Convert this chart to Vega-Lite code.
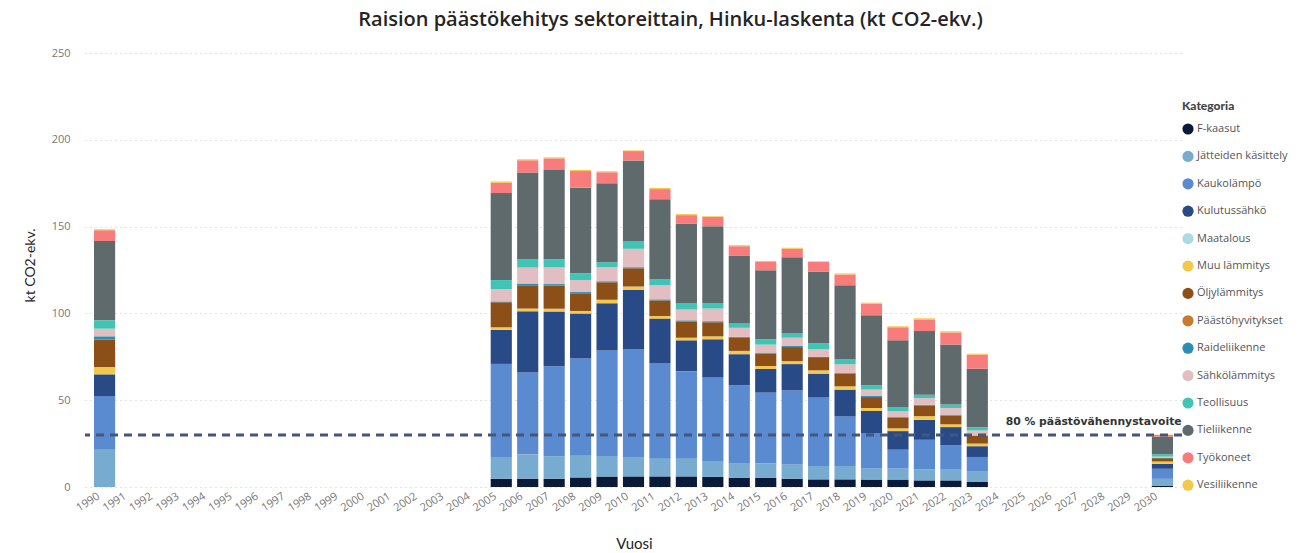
{
  "$schema": "https://vega.github.io/schema/vega-lite/v6.json",
  "width": 1097,
  "height": 434,
  "autosize": {"type": "none"},
  "padding": {"left": 85, "top": 53, "right": 124, "bottom": 66},
  "background": "white",
  "title": {
    "text": "Raision päästökehitys sektoreittain, Hinku-laskenta (kt CO2-ekv.)",
    "font": "Open Sans",
    "fontSize": 20,
    "fontWeight": 600,
    "color": "#252423",
    "anchor": "middle",
    "offset": 17,
    "dx": 37
  },
  "datasets": {
    "paastot": [
      {"Vuosi": "1990", "F-kaasut": 0, "Jätteiden käsittely": 21.5, "Kaukolämpö": 30.9, "Kulutussähkö": 12.5, "Muu lämmitys": 4.2, "Öljylämmitys": 15.8, "Raideliikenne": 1.9, "Sähkölämmitys": 4.4, "Teollisuus": 4.8, "Tieliikenne": 45.7, "Työkoneet": 6.2, "Vesiliikenne": 0.6},
      {"Vuosi": "2005", "F-kaasut": 4.8, "Jätteiden käsittely": 12.0, "Kaukolämpö": 54.1, "Kulutussähkö": 19.6, "Muu lämmitys": 1.5, "Öljylämmitys": 14.4, "Raideliikenne": 0.5, "Sähkölämmitys": 7.1, "Teollisuus": 5.2, "Tieliikenne": 50.1, "Työkoneet": 5.9, "Vesiliikenne": 0.8},
      {"Vuosi": "2006", "F-kaasut": 4.8, "Jätteiden käsittely": 14.0, "Kaukolämpö": 47.1, "Kulutussähkö": 35.3, "Muu lämmitys": 1.6, "Öljylämmitys": 13.4, "Raideliikenne": 1.0, "Sähkölämmitys": 9.2, "Teollisuus": 4.8, "Tieliikenne": 49.9, "Työkoneet": 7.1, "Vesiliikenne": 0.6},
      {"Vuosi": "2007", "F-kaasut": 4.8, "Jätteiden käsittely": 13.0, "Kaukolämpö": 51.8, "Kulutussähkö": 31.5, "Muu lämmitys": 1.6, "Öljylämmitys": 13.4, "Raideliikenne": 0.8, "Sähkölämmitys": 9.6, "Teollisuus": 4.8, "Tieliikenne": 51.3, "Työkoneet": 6.7, "Vesiliikenne": 0.6},
      {"Vuosi": "2008", "F-kaasut": 5.5, "Jätteiden käsittely": 12.5, "Kaukolämpö": 56.0, "Kulutussähkö": 25.9, "Muu lämmitys": 1.5, "Öljylämmitys": 10.2, "Raideliikenne": 0.7, "Sähkölämmitys": 6.9, "Teollisuus": 3.9, "Tieliikenne": 49.3, "Työkoneet": 9.6, "Vesiliikenne": 0.6},
      {"Vuosi": "2009", "F-kaasut": 6.1, "Jätteiden käsittely": 11.7, "Kaukolämpö": 60.9, "Kulutussähkö": 27.2, "Muu lämmitys": 1.9, "Öljylämmitys": 10.1, "Raideliikenne": 0.6, "Sähkölämmitys": 8.1, "Teollisuus": 2.9, "Tieliikenne": 45.5, "Työkoneet": 6.3, "Vesiliikenne": 0.6},
      {"Vuosi": "2010", "F-kaasut": 6.1, "Jätteiden käsittely": 11.1, "Kaukolämpö": 62.0, "Kulutussähkö": 34.4, "Muu lämmitys": 1.9, "Öljylämmitys": 10.5, "Raideliikenne": 0.6, "Sähkölämmitys": 10.6, "Teollisuus": 4.2, "Tieliikenne": 46.7, "Työkoneet": 5.4, "Vesiliikenne": 0.4},
      {"Vuosi": "2011", "F-kaasut": 6.1, "Jätteiden käsittely": 10.2, "Kaukolämpö": 55.1, "Kulutussähkö": 25.6, "Muu lämmitys": 1.5, "Öljylämmitys": 9.0, "Raideliikenne": 0.6, "Sähkölämmitys": 8.1, "Teollisuus": 3.3, "Tieliikenne": 46.3, "Työkoneet": 5.8, "Vesiliikenne": 0.7},
      {"Vuosi": "2012", "F-kaasut": 6.1, "Jätteiden käsittely": 10.2, "Kaukolämpö": 50.3, "Kulutussähkö": 17.9, "Muu lämmitys": 1.5, "Öljylämmitys": 9.4, "Raideliikenne": 0.6, "Sähkölämmitys": 6.2, "Teollisuus": 3.5, "Tieliikenne": 46.1, "Työkoneet": 4.8, "Vesiliikenne": 0.6},
      {"Vuosi": "2013", "F-kaasut": 5.8, "Jätteiden käsittely": 9.2, "Kaukolämpö": 48.0, "Kulutussähkö": 22.1, "Muu lämmitys": 1.7, "Öljylämmitys": 8.1, "Raideliikenne": 0.6, "Sähkölämmitys": 7.3, "Teollisuus": 3.2, "Tieliikenne": 44.2, "Työkoneet": 5.4, "Vesiliikenne": 0.4},
      {"Vuosi": "2014", "F-kaasut": 5.4, "Jätteiden käsittely": 8.4, "Kaukolämpö": 44.8, "Kulutussähkö": 17.9, "Muu lämmitys": 1.9, "Öljylämmitys": 7.5, "Raideliikenne": 0.6, "Sähkölämmitys": 5.2, "Teollisuus": 2.5, "Tieliikenne": 38.9, "Työkoneet": 5.6, "Vesiliikenne": 0.6},
      {"Vuosi": "2015", "F-kaasut": 5.4, "Jätteiden käsittely": 8.1, "Kaukolämpö": 40.9, "Kulutussähkö": 13.6, "Muu lämmitys": 1.7, "Öljylämmitys": 7.1, "Raideliikenne": 0.6, "Sähkölämmitys": 4.6, "Teollisuus": 3.1, "Tieliikenne": 39.7, "Työkoneet": 4.8, "Vesiliikenne": 0.6},
      {"Vuosi": "2016", "F-kaasut": 4.8, "Jätteiden käsittely": 8.2, "Kaukolämpö": 42.6, "Kulutussähkö": 15.2, "Muu lämmitys": 1.7, "Öljylämmitys": 8.1, "Raideliikenne": 0.6, "Sähkölämmitys": 4.8, "Teollisuus": 2.6, "Tieliikenne": 43.8, "Työkoneet": 4.8, "Vesiliikenne": 0.6},
      {"Vuosi": "2017", "F-kaasut": 4.4, "Jätteiden käsittely": 7.7, "Kaukolämpö": 39.7, "Kulutussähkö": 13.5, "Muu lämmitys": 1.9, "Öljylämmitys": 7.1, "Raideliikenne": 0.6, "Sähkölämmitys": 4.4, "Teollisuus": 3.3, "Tieliikenne": 41.6, "Työkoneet": 5.4, "Vesiliikenne": 0.4},
      {"Vuosi": "2018", "F-kaasut": 4.4, "Jätteiden käsittely": 7.7, "Kaukolämpö": 28.6, "Kulutussähkö": 15.4, "Muu lämmitys": 1.9, "Öljylämmitys": 7.3, "Raideliikenne": 0.4, "Sähkölämmitys": 5.0, "Teollisuus": 2.7, "Tieliikenne": 42.8, "Työkoneet": 6.2, "Vesiliikenne": 0.6},
      {"Vuosi": "2019", "F-kaasut": 4.3, "Jätteiden käsittely": 6.3, "Kaukolämpö": 20.2, "Kulutussähkö": 13.0, "Muu lämmitys": 1.7, "Öljylämmitys": 6.3, "Raideliikenne": 0.6, "Sähkölämmitys": 3.7, "Teollisuus": 2.5, "Tieliikenne": 40.3, "Työkoneet": 6.7, "Vesiliikenne": 0.6},
      {"Vuosi": "2020", "F-kaasut": 4.3, "Jätteiden käsittely": 6.3, "Kaukolämpö": 10.9, "Kulutussähkö": 10.7, "Muu lämmitys": 1.6, "Öljylämmitys": 6.1, "Raideliikenne": 0.4, "Sähkölämmitys": 3.3, "Teollisuus": 2.5, "Tieliikenne": 38.4, "Työkoneet": 7.5, "Vesiliikenne": 0.6},
      {"Vuosi": "2021", "F-kaasut": 3.8, "Jätteiden käsittely": 6.3, "Kaukolämpö": 17.1, "Kulutussähkö": 11.5, "Muu lämmitys": 2.1, "Öljylämmitys": 6.0, "Raideliikenne": 0.6, "Sähkölämmitys": 3.8, "Teollisuus": 2.0, "Tieliikenne": 36.6, "Työkoneet": 6.7, "Vesiliikenne": 0.7},
      {"Vuosi": "2022", "F-kaasut": 3.8, "Jätteiden käsittely": 6.2, "Kaukolämpö": 14.0, "Kulutussähkö": 10.5, "Muu lämmitys": 1.6, "Öljylämmitys": 5.0, "Raideliikenne": 0.6, "Sähkölämmitys": 3.8, "Teollisuus": 2.0, "Tieliikenne": 34.6, "Työkoneet": 6.9, "Vesiliikenne": 0.7},
      {"Vuosi": "2023", "F-kaasut": 2.9, "Jätteiden käsittely": 6.3, "Kaukolämpö": 8.1, "Kulutussähkö": 6.2, "Muu lämmitys": 1.5, "Öljylämmitys": 4.4, "Raideliikenne": 0.3, "Sähkölämmitys": 2.9, "Teollisuus": 1.9, "Tieliikenne": 33.6, "Työkoneet": 8.1, "Vesiliikenne": 0.6},
      {"Vuosi": "2030", "F-kaasut": 0.8, "Jätteiden käsittely": 3.9, "Kaukolämpö": 5.8, "Kulutussähkö": 2.9, "Muu lämmitys": 1.3, "Öljylämmitys": 1.9, "Raideliikenne": 0.3, "Sähkölämmitys": 0.6, "Teollisuus": 1.4, "Tieliikenne": 10.1, "Työkoneet": 1.0, "Vesiliikenne": 0.2}
    ],
    "kategoriat": [
      {"Kategoria": "F-kaasut", "jarjestys": 1},
      {"Kategoria": "Jätteiden käsittely", "jarjestys": 2},
      {"Kategoria": "Kaukolämpö", "jarjestys": 3},
      {"Kategoria": "Kulutussähkö", "jarjestys": 4},
      {"Kategoria": "Maatalous", "jarjestys": 5},
      {"Kategoria": "Muu lämmitys", "jarjestys": 6},
      {"Kategoria": "Öljylämmitys", "jarjestys": 7},
      {"Kategoria": "Päästöhyvitykset", "jarjestys": 8},
      {"Kategoria": "Raideliikenne", "jarjestys": 9},
      {"Kategoria": "Sähkölämmitys", "jarjestys": 10},
      {"Kategoria": "Teollisuus", "jarjestys": 11},
      {"Kategoria": "Tieliikenne", "jarjestys": 12},
      {"Kategoria": "Työkoneet", "jarjestys": 13},
      {"Kategoria": "Vesiliikenne", "jarjestys": 14}
    ],
    "tavoite": [
      {"Vuosi": "2024", "arvo": 30, "teksti": "80 % päästövähennystavoite"}
    ]
  },
  "layer": [
    {
      "data": {"name": "paastot"},
      "transform": [
        {"fold": ["F-kaasut", "Jätteiden käsittely", "Kaukolämpö", "Kulutussähkö", "Muu lämmitys", "Öljylämmitys", "Raideliikenne", "Sähkölämmitys", "Teollisuus", "Tieliikenne", "Työkoneet", "Vesiliikenne"], "as": ["Kategoria", "arvo"]},
        {"lookup": "Kategoria", "from": {"data": {"name": "kategoriat"}, "key": "Kategoria", "fields": ["jarjestys"]}}
      ],
      "mark": {"type": "bar"},
      "encoding": {
        "x": {
          "field": "Vuosi", "type": "nominal",
          "scale": {"domain": ["1990","1991","1992","1993","1994","1995","1996","1997","1998","1999","2000","2001","2002","2003","2004","2005","2006","2007","2008","2009","2010","2011","2012","2013","2014","2015","2016","2017","2018","2019","2020","2021","2022","2023","2024","2025","2026","2027","2028","2029","2030"], "paddingInner": 0.2, "paddingOuter": 0.34},
          "axis": {
            "title": "Vuosi", "titleFont": "Lato", "titleFontSize": 15, "titleFontWeight": "normal", "titleColor": "#252423",
            "titleX": 549, "titleY": 56, "titleAlign": "center", "titleBaseline": "middle",
            "labelAngle": -33, "labelAlign": "right", "labelBaseline": "top", "labelFont": "Open Sans", "labelFontSize": 11, "labelColor": "#777777", "labelPadding": 3, "labelOffset": -9,
            "ticks": false, "domain": false, "grid": false
          }
        },
        "y": {
          "field": "arvo", "type": "quantitative", "aggregate": "sum", "stack": "zero",
          "scale": {"domain": [0, 250], "nice": false},
          "axis": {
            "title": "kt CO2-ekv.", "titleFont": "Lato", "titleFontSize": 14, "titleFontWeight": "normal", "titleColor": "#252423",
            "titleX": -55, "titleY": 212, "titleAngle": 270, "titleAlign": "center", "titleBaseline": "middle",
            "values": [0, 50, 100, 150, 200, 250], "labelFont": "Open Sans", "labelFontSize": 11, "labelColor": "#777777", "labelPadding": 15,
            "ticks": false, "domain": false, "grid": true, "gridDash": [1, 4], "gridColor": "#c4c4c4", "gridWidth": 1
          }
        },
        "color": {
          "field": "Kategoria", "type": "nominal",
          "scale": {
            "domain": ["F-kaasut", "Jätteiden käsittely", "Kaukolämpö", "Kulutussähkö", "Maatalous", "Muu lämmitys", "Öljylämmitys", "Päästöhyvitykset", "Raideliikenne", "Sähkölämmitys", "Teollisuus", "Tieliikenne", "Työkoneet", "Vesiliikenne"],
            "range": ["#0c1a3a", "#77abcf", "#5a8ad0", "#284a86", "#add8e6", "#f4c84d", "#8b4f17", "#c87a2d", "#2b8fb5", "#e2bdc1", "#40c4b5", "#5e6a6b", "#f87c7c", "#f2c94c"]
          },
          "legend": {
            "title": "Kategoria", "orient": "none", "legendX": 1097, "legendY": 48,
            "titleFont": "Lato", "titleFontSize": 12, "titleFontWeight": 900, "titleColor": "#444444", "titlePadding": 10,
            "labelFont": "Open Sans", "labelFontSize": 11, "labelColor": "#555555", "labelOffset": 3,
            "symbolType": "circle", "symbolSize": 125, "symbolStrokeWidth": 0, "rowPadding": 15.4
          }
        },
        "order": {"field": "jarjestys", "type": "quantitative", "sort": "ascending"}
      }
    },
    {
      "data": {"name": "tavoite"},
      "mark": {"type": "rule", "strokeDash": [8, 6], "strokeWidth": 3, "color": "#44577a"},
      "encoding": {
        "y": {"field": "arvo", "type": "quantitative"}
      }
    },
    {
      "data": {"name": "tavoite"},
      "mark": {"type": "text", "align": "left", "baseline": "middle", "dx": 2, "dy": -13, "font": "DejaVu Sans", "fontSize": 10.8, "fontWeight": "bold", "color": "#333333"},
      "encoding": {
        "x": {"field": "Vuosi", "type": "nominal"},
        "y": {"field": "arvo", "type": "quantitative"},
        "text": {"field": "teksti"}
      }
    }
  ],
  "config": {
    "view": {"stroke": null}
  }
}
